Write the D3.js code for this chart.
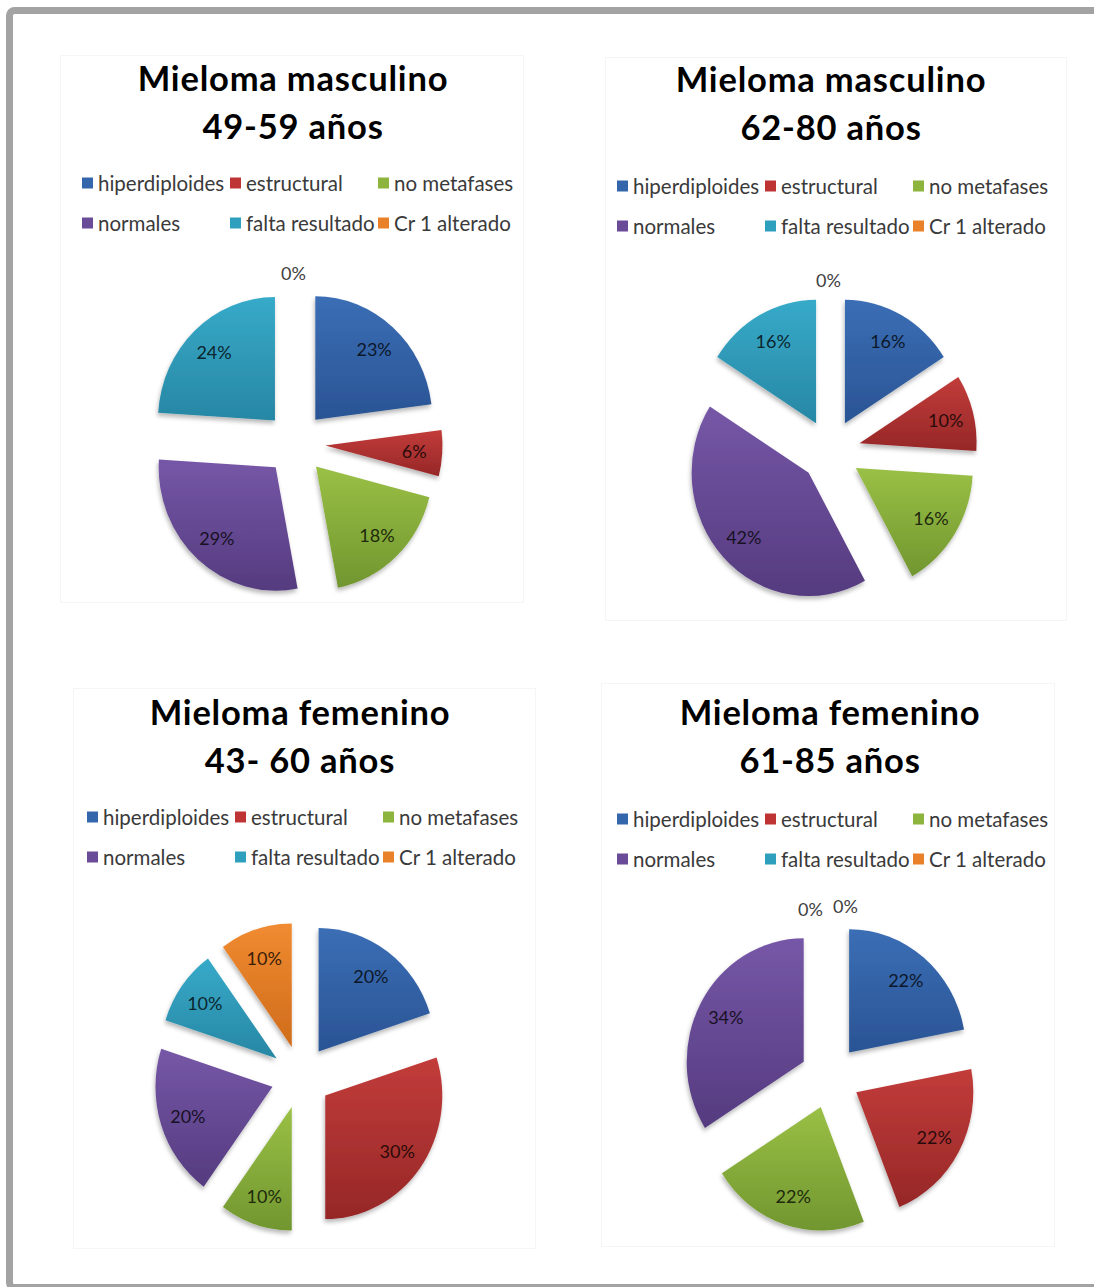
<!DOCTYPE html>
<html>
<head>
<meta charset="utf-8">
<script src="https://cdn.jsdelivr.net/npm/d3@7"></script>
<style>
  html, body { margin: 0; padding: 0; background: #fff; }
  svg { display: block; }
</style>
</head>
<body>
<svg id="chart" width="1094" height="1287"></svg>
<script>
// Categories shared by all four pies (legend order = slice order, clockwise from 12 o'clock)
const categories = ["hiperdiploides", "estructural", "no metafases", "normales", "falta resultado", "Cr 1 alterado"];

// Percentages per group
const mascJoven  = [23, 6, 18, 29, 24, 0];   // Mieloma masculino 49-59 años
const mascMayor  = [16, 10, 16, 42, 16, 0];  // Mieloma masculino 62-80 años
const femJoven   = [20, 30, 10, 20, 10, 10]; // Mieloma femenino 43- 60 años
const femMayor   = [22, 22, 22, 34, 0, 0];   // Mieloma femenino 61-85 años

const titleLines = [
  ["Mieloma masculino", "49-59 años"],
  ["Mieloma masculino", "62-80 años"],
  ["Mieloma femenino", "43- 60 años"],
  ["Mieloma femenino", "61-85 años"]
];
const seriesList = [mascJoven, mascMayor, femJoven, femMayor];

// Slice fills: lighter top, darker bottom
const sliceColors = [
  ["#3b6eb5", "#2a5494"],
  ["#c23c3a", "#962727"],
  ["#9ac046", "#71962f"],
  ["#7657a7", "#553b7f"],
  ["#37aac9", "#2787a4"],
  ["#f18b31", "#cf6c1b"]
];
const legendColors = ["#3466ab", "#be3434", "#8db43d", "#6a4b98", "#2f9fbe", "#e9812b"];

// Panel layout
const panels = [
  { box: [60, 55, 523, 602],   cx: 295.5, cy: 443.5, tx: 293, ty: 77,  lx: 82,  ly: 183 },
  { box: [605, 57, 1066, 620], cx: 830.5, cy: 451,   tx: 831, ty: 78,  lx: 617, ly: 186 },
  { box: [73, 688, 535, 1248], cx: 301,   cy: 1077,  tx: 300, ty: 711, lx: 87,  ly: 817 },
  { box: [601, 683, 1054, 1246], cx: 830, cy: 1077,  tx: 830, ty: 711, lx: 617, ly: 819 }
];

const R = 117, EXPLODE = 30, KY = 1.055, LABEL_R = 0.76 * R;

const svg = d3.select("#chart");
const defs = svg.append("defs");

sliceColors.forEach((c, i) => {
  const g = defs.append("linearGradient")
    .attr("id", "grad" + i).attr("x1", 0).attr("y1", 0).attr("x2", 0).attr("y2", 1);
  g.append("stop").attr("offset", "0%").attr("stop-color", c[0]);
  g.append("stop").attr("offset", "100%").attr("stop-color", c[1]);
});

const shadow = defs.append("filter").attr("id", "shadow")
  .attr("x", "-20%").attr("y", "-20%").attr("width", "140%").attr("height", "140%");
shadow.append("feDropShadow")
  .attr("dx", -1).attr("dy", 3).attr("stdDeviation", 2)
  .attr("flood-color", "#000").attr("flood-opacity", 0.28);

// Outer frame
svg.append("rect")
  .attr("x", 9.5).attr("y", 10.5).attr("width", 1200).attr("height", 1277)
  .attr("rx", 5).attr("fill", "none").attr("stroke", "#a3a3a3").attr("stroke-width", 7);

const pie = d3.pie().sort(null).value(d => d).startAngle(0).endAngle(2 * Math.PI);
const arc = d3.arc().innerRadius(0).outerRadius(R);

const fontFamily = "Lato, 'Open Sans', sans-serif";

panels.forEach((p, k) => {
  const values = seriesList[k];
  const g = svg.append("g");

  // faint chart-area border
  g.append("rect")
    .attr("x", p.box[0] + 0.5).attr("y", p.box[1] + 0.5)
    .attr("width", p.box[2] - p.box[0]).attr("height", p.box[3] - p.box[1])
    .attr("fill", "none").attr("stroke", "#f5f5f5").attr("stroke-width", 1);

  // title
  [0, 1].forEach(line => {
    g.append("text")
      .attr("x", p.tx).attr("y", p.ty + line * 48)
      .attr("text-anchor", "middle").attr("dominant-baseline", "central")
      .attr("font-family", fontFamily).attr("font-weight", "bold").attr("font-size", 34.5)
      .attr("letter-spacing", 0.8)
      .attr("fill", "#000").text(titleLines[k][line]);
  });

  // legend: 2 rows x 3 columns
  const leg = g.append("g");
  categories.forEach((c, i) => {
    const col = i % 3, row = Math.floor(i / 3);
    const x = p.lx + col * 148, y = p.ly + row * 40;
    leg.append("rect")
      .attr("x", x).attr("y", y - 5.5).attr("width", 11).attr("height", 11)
      .attr("fill", legendColors[i]);
    leg.append("text")
      .attr("x", x + 16).attr("y", y)
      .attr("dominant-baseline", "central")
      .attr("font-family", fontFamily).attr("font-size", 20.5)
      .attr("fill", "#3a3a3a").text(c);
  });

  // pie slices (exploded)
  const arcs = pie(values);
  const pg = g.append("g")
    .attr("transform", `translate(${p.cx},${p.cy}) scale(1,${KY})`);
  pg.selectAll("path")
    .data(arcs.filter(a => a.value > 0))
    .join("path")
    .attr("d", arc)
    .attr("transform", a => {
      const m = (a.startAngle + a.endAngle) / 2;
      return `translate(${EXPLODE * Math.sin(m)},${-EXPLODE * Math.cos(m)})`;
    })
    .attr("fill", a => `url(#grad${a.index})`)
    .attr("filter", "url(#shadow)");

  // data labels
  const zeros = arcs.filter(a => a.value === 0);
  arcs.forEach(a => {
    const m = (a.startAngle + a.endAngle) / 2;
    let x, y, fill;
    if (a.value > 0) {
      const d = EXPLODE + LABEL_R;
      x = p.cx + d * Math.sin(m);
      y = p.cy - d * Math.cos(m) * KY;
      fill = d3.interpolateRgb(sliceColors[a.index][1], "#000")(0.72);
    } else {
      const zi = zeros.indexOf(a), n = zeros.length;
      const d = (R + EXPLODE + 15) * KY;
      x = p.cx + (zi - (n - 1) / 2) * 35 - 2;
      y = p.cy - d + (n > 1 && zi === 0 ? 3 : 0);
      fill = "#404040";
    }
    g.append("text")
      .attr("x", x).attr("y", y)
      .attr("text-anchor", "middle").attr("dominant-baseline", "central")
      .attr("font-family", fontFamily).attr("font-size", 18)
      .attr("fill", fill).text(a.value + "%");
  });
});
</script>
</body>
</html>
